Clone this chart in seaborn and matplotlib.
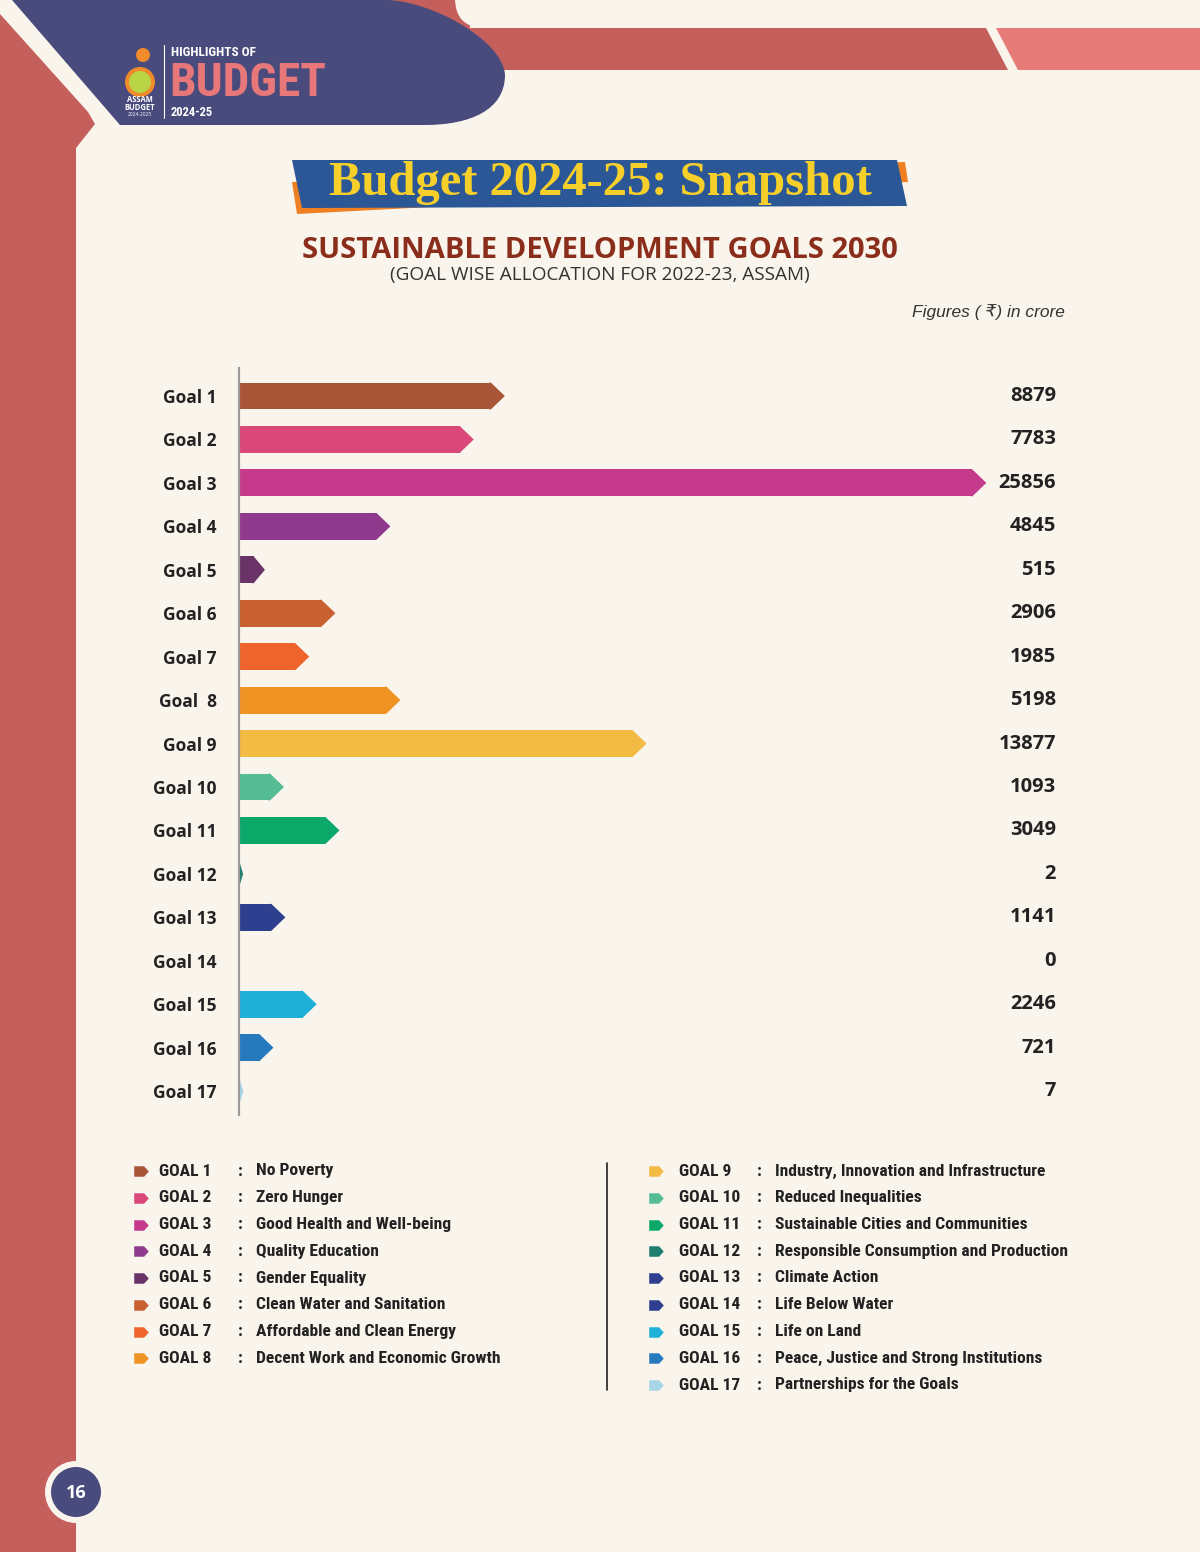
import numpy as np
import pandas as pd
import matplotlib
matplotlib.use("Agg")
import matplotlib.pyplot as plt
import matplotlib.transforms as mtransforms
from matplotlib import font_manager
from matplotlib.patches import Polygon, Circle, FancyBboxPatch, PathPatch
from matplotlib.path import Path
import seaborn as sns

# data
goals = ["Goal 1", "Goal 2", "Goal 3", "Goal 4", "Goal 5", "Goal 6", "Goal 7", "Goal  8",
         "Goal 9", "Goal 10", "Goal 11", "Goal 12", "Goal 13", "Goal 14", "Goal 15",
         "Goal 16", "Goal 17"]
allocation = [8879, 7783, 25856, 4845, 515, 2906, 1985, 5198, 13877, 1093, 3049, 2,
              1141, 0, 2246, 721, 7]
bar_colors = ["#A85436", "#D94879", "#C53A8B", "#8F3A8C", "#6A3368", "#C8612F", "#EE642C",
              "#EF9424", "#F3BA44", "#55BC96", "#0BA86A", "#1E7D6F", "#2D3F8E", "#2D3F8E",
              "#1FB0D8", "#2679BD", "#A7D6E6"]
legend_names = ["GOAL %d" % i for i in range(1, 18)]
legend_desc = ["No Poverty", "Zero Hunger", "Good Health and Well-being", "Quality Education",
               "Gender Equality", "Clean Water and Sanitation", "Affordable and Clean Energy",
               "Decent Work and Economic Growth", "Industry, Innovation and Infrastructure",
               "Reduced Inequalities", "Sustainable Cities and Communities",
               "Responsible Consumption and Production", "Climate Action", "Life Below Water",
               "Life on Land", "Peace, Justice and Strong Institutions",
               "Partnerships for the Goals"]

CREAM = "#FAF5EC"
RED = "#C45F5B"
PINK = "#E77B78"
NAVY = "#4A4B7D"
DARK = "#222222"
SANS = ["Open Sans", "DejaVu Sans"]


def has_font(name):
    try:
        font_manager.findfont(name, fallback_to_default=False)
        return True
    except ValueError:
        return False


# condensed face for the legend / logo if there is one, else shrink Liberation Sans
cond = [f for f in ["Roboto Condensed", "Liberation Sans Narrow", "Open Sans Condensed"] if has_font(f)]
if cond:
    NARROW = [cond[0], "DejaVu Sans"]
    leg_size, logo_size = 12.6, 34
else:
    NARROW = ["Liberation Sans", "DejaVu Sans"]
    leg_size, logo_size = 10.6, 27

sns.set_theme(style="white")
plt.rcParams['font.family'] = SANS

fig = plt.figure(figsize=(12, 15.52), dpi=100, facecolor=CREAM)

# page decoration in pixel coords
bg = fig.add_axes([0, 0, 1, 1], zorder=0)
bg.set_xlim(0, 1200)
bg.set_ylim(1552, 0)
bg.axis("off")

bg.add_patch(Polygon([(0, 14), (88, 112), (95, 124), (76, 148), (76, 1552), (0, 1552)],
                     closed=True, color=RED, lw=0))
bg.add_patch(Polygon([(370, 0), (470, 0), (470, 28), (986, 28), (1008, 70), (430, 70)],
                     closed=True, color=RED, lw=0))
bg.add_patch(FancyBboxPatch((455, -80), 900, 108, boxstyle="round,pad=0,rounding_size=30",
                            color=CREAM, lw=0))
bg.add_patch(Polygon([(996, 28), (1200, 28), (1200, 70), (1018, 70)], closed=True,
                     color=PINK, lw=0))
purple = Path([(12, 0), (385, 0), (430, 0), (503, 40), (505, 75), (505, 110), (470, 125),
               (425, 125), (120, 125), (12, 0)],
              [Path.MOVETO, Path.LINETO, Path.CURVE4, Path.CURVE4, Path.CURVE4, Path.CURVE4,
               Path.CURVE4, Path.CURVE4, Path.LINETO, Path.CLOSEPOLY])
bg.add_patch(PathPatch(purple, color=NAVY, lw=0))

# small logo
bg.add_patch(Circle((140, 82), 15, color="#F08A2A", lw=0))
bg.add_patch(Circle((140, 82), 11, color="#B9D444", lw=0))
bg.add_patch(Circle((143, 55), 7, color="#F08A2A", lw=0))
bg.text(140, 100, "ASSAM", color="white", fontsize=5.5, fontweight="bold", ha="center", va="center")
bg.text(140, 108, "BUDGET", color="white", fontsize=5.5, fontweight="bold", ha="center", va="center")
bg.text(140, 115, "2024-2025", color="white", fontsize=3.5, ha="center", va="center")
bg.plot([164, 164], [45, 118], color="white", lw=0.8)
bg.text(171, 52, "HIGHLIGHTS OF", color="white", fontsize=9.5, fontweight="bold",
        family=NARROW, ha="left", va="center")
bg.text(169, 83, "BUDGET", color="#E8777A", fontsize=logo_size, fontweight="bold",
        family=NARROW, ha="left", va="center")
bg.text(171, 112, "2024-25", color="white", fontsize=9, fontweight="bold",
        family=NARROW, ha="left", va="center")

# title banner
bg.add_patch(Polygon([(292, 182), (905, 162), (908, 182), (297, 214)], closed=True,
                     color="#F07F22", lw=0))
bg.add_patch(Polygon([(292, 160), (897, 160), (907, 206), (302, 208)], closed=True,
                     color="#2B5796", lw=0))
bg.text(600, 183, "Budget 2024-25: Snapshot", color="#F6CF2B", fontsize=35, fontweight="bold",
        family=["Liberation Serif", "DejaVu Serif"], ha="center", va="center")

bg.text(600, 251, "SUSTAINABLE DEVELOPMENT GOALS 2030", color="#8A2E1B", fontsize=21,
        fontweight="bold", family=SANS, ha="center", va="center")
bg.text(600, 275, "(GOAL WISE ALLOCATION FOR 2022-23, ASSAM)", color="#333333", fontsize=13.7,
        family=SANS, ha="center", va="center")
bg.text(1065, 312, "Figures ( ₹) in crore", color="#333333", fontsize=12.5, style="italic",
        family=["Liberation Sans", "DejaVu Sans"], ha="right", va="center")

# bar chart
AX_W = 831
ax = fig.add_axes([239 / 1200, 1 - 1115 / 1552, AX_W / 1200, 747 / 1552], zorder=2)
ax.set_facecolor("none")
sns.barplot(x=allocation, y=goals, hue=goals, palette=bar_colors, legend=False,
            orient="h", width=0.62, saturation=1, linewidth=0, ax=ax)
XMAX = 29300
ax.set_xlim(0, XMAX)
ax.set_ylim(16.55, -0.645)

# arrow heads on the bar ends
px = XMAX / AX_W
for i, (v, c) in enumerate(zip(allocation, bar_colors)):
    if v > 0:
        body_px = v / px
        tip = min(14, 4 + 0.5 * body_px) * px
        start = max(0, v - 1.5 * px)
        ax.add_patch(Polygon([(start, i - 0.31), (v, i - 0.31), (v + tip, i), (v, i + 0.31),
                              (start, i + 0.31)], closed=True, color=c, lw=0))

trans = mtransforms.blended_transform_factory(ax.transAxes, ax.transData)
for i, v in enumerate(allocation):
    ax.text((1056 - 239) / AX_W, i, str(v), transform=trans, ha="right", va="center",
            fontsize=14.5, fontweight="bold", color=DARK)

ax.set_xlabel("")
ax.set_ylabel("")
ax.set_xticks([])
ax.set_yticks(range(len(goals)))
ax.set_yticklabels(goals, fontweight="bold", fontsize=12.5, color=DARK)
ax.tick_params(axis="y", length=0, pad=16)
for s in ["top", "right", "bottom"]:
    ax.spines[s].set_visible(False)
ax.spines["left"].set_color("#9A9A9A")
ax.spines["left"].set_linewidth(1.6)

# legend
arrow = Path([(-1, -0.72), (0.35, -0.72), (1, 0), (0.35, 0.72), (-1, 0.72), (-1, -0.72)],
             [Path.MOVETO, Path.LINETO, Path.LINETO, Path.LINETO, Path.LINETO, Path.CLOSEPOLY])
for i in range(17):
    if i < 8:
        mx, nx, cx, dx, y = 141, 159, 240, 256, 1171 + 26.75 * i
    else:
        mx, nx, cx, dx, y = 656, 679, 759, 775, 1171 + 26.75 * (i - 8)
    bg.scatter([mx], [y], marker=arrow, s=110, color=bar_colors[i], lw=0)
    bg.text(nx, y, legend_names[i], fontsize=leg_size, fontweight="bold", family=NARROW,
            color=DARK, ha="left", va="center")
    bg.text(cx, y, ":", fontsize=leg_size, fontweight="bold", family=NARROW,
            color=DARK, ha="center", va="center")
    bg.text(dx, y, legend_desc[i], fontsize=leg_size, fontweight="bold", family=NARROW,
            color=DARK, ha="left", va="center")
bg.plot([607, 607], [1163, 1390], color=DARK, lw=1.2)

# page number
bg.add_patch(Circle((76, 1492), 31, color=CREAM, lw=0))
bg.add_patch(Circle((76, 1492), 25, color=NAVY, lw=0))
bg.text(76, 1493, "16", color="white", fontsize=13, fontweight="bold",
        ha="center", va="center")

fig.savefig("out.png", dpi=100, facecolor=CREAM)
